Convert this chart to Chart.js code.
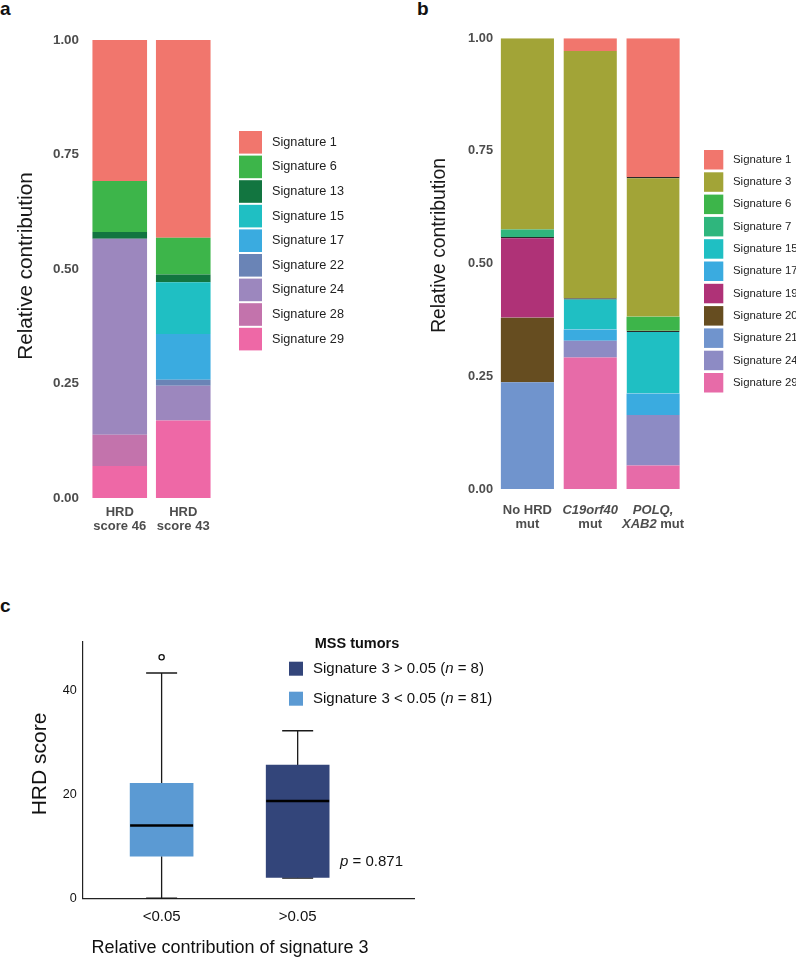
<!DOCTYPE html>
<html><head><meta charset="utf-8">
<script src="https://cdn.jsdelivr.net/npm/chart.js@4/dist/chart.umd.min.js"></script>
<style>
html,body{margin:0;padding:0;background:#fff;}
body{width:796px;height:959px;position:relative;overflow:hidden;font-family:"Liberation Sans",Arial,Helvetica,sans-serif;}
.wrap{position:absolute;}
.letter{position:absolute;font-weight:bold;font-size:19px;line-height:19px;color:#111;}
canvas{display:block;}
</style></head><body>
<div class="letter" style="left:0;top:-1px">a</div>
<div class="letter" style="left:417px;top:-1px">b</div>
<div class="letter" style="left:0;top:596px">c</div>
<div class="wrap" style="left:0;top:0"><canvas id="ca" width="400" height="540"></canvas></div>
<div class="wrap" style="left:400px;top:0"><canvas id="cb" width="396" height="540"></canvas></div>
<div class="wrap" style="left:0;top:560px"><canvas id="cc" width="796" height="399"></canvas></div>
<script>
// ---------- Panel a data ----------
const aBars = [["HRD","score 46"],["HRD","score 43"]];
const aSignatures = ["Signature 1","Signature 6","Signature 13","Signature 15","Signature 17","Signature 22","Signature 24","Signature 28","Signature 29"];
const aColors = ["#F1766D","#3DB54A","#127540","#1FBFC3","#3AABE0","#6A84B6","#9C87BE","#C373AC","#EE68A6"];
const aScore46 = [0.308,0.111,0.015,0,0,0,0.428,0.068,0.070];
const aScore43 = [0.432,0.080,0.017,0.113,0.100,0.013,0.076,0,0.169];
const abYTicks = [0,0.25,0.5,0.75,1];

// ---------- Panel b data ----------
const bBars = [
  [[{t:"No HRD"}],[{t:"mut"}]],
  [[{t:"C19orf40",italic:true}],[{t:"mut"}]],
  [[{t:"POLQ,",italic:true}],[{t:"XAB2",italic:true},{t:" mut"}]]
];
const bSignatures = ["Signature 1","Signature 3","Signature 6","Signature 7","Signature 15","Signature 17","Signature 19","Signature 20","Signature 21","Signature 24","Signature 29"];
const bColors = ["#F1766D","#A2A437","#3DB54A","#2FB67D","#1FBFC3","#3AABE0","#AF3277","#664D20","#7094CD","#8D8BC4","#E76BA8"];
const bNoHRD = [0,0.424,0,0.017,0,0,0.179,0.143,0.237,0,0];
const bC19orf40 = [0.028,0.549,0,0,0.069,0.025,0,0,0,0.037,0.292];
const bPOLQ = [0.308,0.310,0.031,0,0.139,0.048,0,0,0,0.112,0.052];
const bEdges = [["Signature 19"],["Signature 15"],["Signature 3","Signature 15"]];

// ---------- Panel c data ----------
const cGroups = ["<0.05",">0.05"];
const cMin = [0,3.9];
const cQ1 = [8.1,4.0];
const cMedian = [14.0,18.7];
const cQ3 = [22.1,25.6];
const cMax = [43.3,32.2];
const cOutliers = [[46.3],[]];
const cYTicks = [0,20,40];
const cColors = ["#5B9AD3","#33457A"];
const cLegend = [
  [{t:"Signature 3 > 0.05 ("},{t:"n",italic:true},{t:" = 8)"}],
  [{t:"Signature 3 < 0.05 ("},{t:"n",italic:true},{t:" = 81)"}]
];
const cLegendColors = ["#33457A","#5B9AD3"];

const FONT = '"Liberation Sans", Arial, Helvetica, sans-serif';

function fontStr(p, size, bold){
  return (p.italic?'italic ':'') + ((p.bold||bold)?'bold ':'') + size + 'px ' + FONT;
}
function drawParts(ctx, parts, x, y, size, bold, align){
  let widths = parts.map(p=>{ctx.font=fontStr(p,size,bold);return ctx.measureText(p.t).width;});
  let total = widths.reduce((a,b)=>a+b,0);
  let cx = align==='left'?x:(align==='right'?x-total:x-total/2);
  ctx.textAlign='left';
  parts.forEach((p,i)=>{ctx.font=fontStr(p,size,bold);ctx.fillText(p.t,cx,y);cx+=widths[i];});
}
function textPlugin(items){
  return {id:'texts',afterDraw(chart){
    const ctx=chart.ctx;
    items.forEach(it=>{
      ctx.save();
      const x = typeof it.x==='function'?it.x(chart):it.x;
      const y = typeof it.y==='function'?it.y(chart):it.y;
      ctx.translate(x,y);
      if(it.rotate) ctx.rotate(it.rotate);
      ctx.fillStyle=it.color||'#000';
      ctx.textBaseline='middle';
      drawParts(ctx, it.parts||[{t:it.text}], 0, 0, it.size, it.bold, it.align||'center');
      ctx.restore();
    });
  }};
}
function legendPlugin(cfg){
  return {id:'customLegend',afterDraw(chart){
    const ctx=chart.ctx;
    cfg.labels.forEach((lab,i)=>{
      const top=cfg.y+i*cfg.pitch;
      ctx.fillStyle=cfg.colors[i];
      ctx.fillRect(cfg.x,top,cfg.w,cfg.h);
      ctx.fillStyle=cfg.color||'#222';
      ctx.textBaseline='middle';
      const parts = Array.isArray(lab)?lab:[{t:lab}];
      drawParts(ctx, parts, cfg.textX, top+cfg.h/2, cfg.size, false, 'left');
    });
  }};
}
function stacked(sigs, colors, bars, edges){
  return sigs.map((s,i)=>{
    const ds = {label:s, data:bars.map(b=>b[i]), backgroundColor:colors[i], borderWidth:0};
    if(edges){
      ds.borderColor='#2a2a2a';
      ds.borderSkipped=false;
      ds.borderWidth=(c)=> edges[c.dataIndex].includes(s)?{top:1.2,left:0,right:0,bottom:0}:0;
    }
    return ds;
  }).reverse();
}
const tickGray='#4D4D4D';

// ---------- Chart a ----------
new Chart(document.getElementById('ca'),{
  type:'bar',
  data:{labels:aBars, datasets:stacked(aSignatures,aColors,[aScore46,aScore43])},
  options:{
    responsive:false, animation:false, events:[],
    layout:{padding:{left:0,top:40,right:185,bottom:0}},
    plugins:{legend:{display:false},tooltip:{enabled:false}},
    datasets:{bar:{categoryPercentage:1,barPercentage:0.86}},
    scales:{
      x:{stacked:true,grid:{display:false,drawTicks:false},border:{display:false},
        ticks:{color:tickGray,padding:7,font:{family:FONT,size:13,weight:'bold',lineHeight:1.1}},
        afterFit:s=>{s.height=42;}},
      y:{stacked:true,min:0,max:1,grid:{display:false,drawTicks:false},border:{display:false},
        afterBuildTicks:s=>{s.ticks=abYTicks.map(v=>({value:v}));},
        ticks:{color:tickGray,padding:9,font:{family:FONT,size:13.4,weight:'bold'},callback:v=>Number(v).toFixed(2)},
        afterFit:s=>{s.width=88;}}
    }
  },
  plugins:[
    legendPlugin({labels:aSignatures,colors:aColors,x:239,y:131,w:23,h:22.6,pitch:24.6,textX:272,size:12.7,color:'#222'}),
    textPlugin([{text:'Relative contribution',x:26.5,y:266,size:20.7,rotate:-Math.PI/2,color:'#1a1a1a'}])
  ]
});

// ---------- Chart b ----------
const bTextItems=[{text:'Relative contribution',x:40,y:245.5,size:19.3,rotate:-Math.PI/2,color:'#1a1a1a'}];
bBars.forEach((lines,i)=>{
  lines.forEach((parts,j)=>{
    bTextItems.push({parts:parts,bold:true,size:13,color:tickGray,
      x:(ch)=>ch.scales.x.getPixelForValue(i),
      y:(ch)=>ch.chartArea.bottom+21.5+j*14});
  });
});
new Chart(document.getElementById('cb'),{
  type:'bar',
  data:{labels:bBars.map(l=>l.map(p=>p.map(q=>q.t).join('')).join(' ')), datasets:stacked(bSignatures,bColors,[bNoHRD,bC19orf40,bPOLQ],bEdges)},
  options:{
    responsive:false, animation:false, events:[],
    layout:{padding:{left:0,top:38.3,right:111.5,bottom:0}},
    plugins:{legend:{display:false},tooltip:{enabled:false}},
    datasets:{bar:{categoryPercentage:1,barPercentage:0.845}},
    scales:{
      x:{stacked:true,grid:{display:false,drawTicks:false},border:{display:false},
        ticks:{display:false},
        afterFit:s=>{s.height=51;}},
      y:{stacked:true,min:0,max:1,grid:{display:false,drawTicks:false},border:{display:false},
        afterBuildTicks:s=>{s.ticks=abYTicks.map(v=>({value:v}));},
        ticks:{color:tickGray,padding:3,font:{family:FONT,size:12.8,weight:'bold'},callback:v=>Number(v).toFixed(2)},
        afterFit:s=>{s.width=96;}}
    }
  },
  plugins:[
    legendPlugin({labels:bSignatures,colors:bColors,x:304,y:150,w:19.3,h:19.5,pitch:22.3,textX:333,size:11.4,color:'#222'}),
    textPlugin(bTextItems)
  ]
});

// ---------- Chart c ----------
const boxPlugin={id:'boxParts',
  beforeDatasetsDraw(chart){
    const {ctx,scales:{x,y}}=chart;
    ctx.save();ctx.strokeStyle='#1a1a1a';ctx.lineWidth=1.3;
    cGroups.forEach((g,i)=>{
      const px=x.getPixelForValue(i+1);
      ctx.beginPath();
      ctx.moveTo(px,y.getPixelForValue(cMax[i]));ctx.lineTo(px,y.getPixelForValue(cQ3[i]));
      ctx.moveTo(px,y.getPixelForValue(cMin[i]));ctx.lineTo(px,y.getPixelForValue(cQ1[i]));
      ctx.stroke();
      ctx.lineWidth=1.5;
      ctx.beginPath();
      [cMax[i],cMin[i]].forEach(v=>{const py=y.getPixelForValue(v);ctx.moveTo(px-15.5,py);ctx.lineTo(px+15.5,py);});
      ctx.stroke();
      ctx.lineWidth=1.3;
    });
    ctx.restore();
  },
  afterDatasetsDraw(chart){
    const {ctx,scales:{x,y}}=chart;
    ctx.save();ctx.strokeStyle='#000';ctx.lineWidth=2.6;
    cGroups.forEach((g,i)=>{
      const px=x.getPixelForValue(i+1), py=y.getPixelForValue(cMedian[i]);
      ctx.beginPath();ctx.moveTo(px-31.5,py);ctx.lineTo(px+31.5,py);ctx.stroke();
    });
    ctx.restore();
  }
};
const outlierPts=[];
cOutliers.forEach((arr,i)=>arr.forEach(v=>outlierPts.push({x:i+1,y:v})));
new Chart(document.getElementById('cc'),{
  type:'bar',
  data:{datasets:[
    {type:'bar',data:cGroups.map((g,i)=>({x:i+1,y:[cQ1[i],cQ3[i]]})),backgroundColor:cColors,barThickness:63,borderWidth:0},
    {type:'scatter',data:outlierPts,pointRadius:2.6,pointBorderWidth:1.3,pointBorderColor:'#111',pointBackgroundColor:'#fff',showLine:false}
  ]},
  options:{
    responsive:false, animation:false, events:[],
    layout:{padding:{left:0,top:81.7,right:382,bottom:0}},
    plugins:{legend:{display:false},tooltip:{enabled:false}},
    scales:{
      x:{type:'linear',min:0.42,max:2.855,offset:false,grid:{display:false,drawTicks:false},
        border:{display:true,color:'#222',width:1.2},
        afterBuildTicks:s=>{s.ticks=cGroups.map((g,i)=>({value:i+1}));},
        ticks:{color:'#111',padding:9.4,font:{family:FONT,size:15},callback:v=>cGroups[Math.round(v)-1]},
        afterFit:s=>{s.height=60.7;}},
      y:{min:0,max:49.3,grid:{display:false,drawTicks:false},
        border:{display:true,color:'#222',width:1.2},
        afterBuildTicks:s=>{s.ticks=cYTicks.map(v=>({value:v}));},
        ticks:{color:'#111',padding:6,font:{family:FONT,size:12.6}},
        afterFit:s=>{s.width=82.7;}}
    }
  },
  plugins:[
    boxPlugin,
    legendPlugin({labels:cLegend,colors:cLegendColors,x:289,y:101.7,w:14,h:14,pitch:30,textX:313,size:15,color:'#111'}),
    textPlugin([
      {text:'MSS tumors',x:357,y:84,size:14.5,bold:true,color:'#111'},
      {parts:[{t:'p',italic:true},{t:' = 0.871'}],x:340,y:302,size:15,align:'left',color:'#111'},
      {text:'Relative contribution of signature 3',x:230,y:387.7,size:18,color:'#111'},
      {text:'HRD score',x:40,y:204,size:21,rotate:-Math.PI/2,color:'#111'}
    ])
  ]
});
</script>
</body></html>
